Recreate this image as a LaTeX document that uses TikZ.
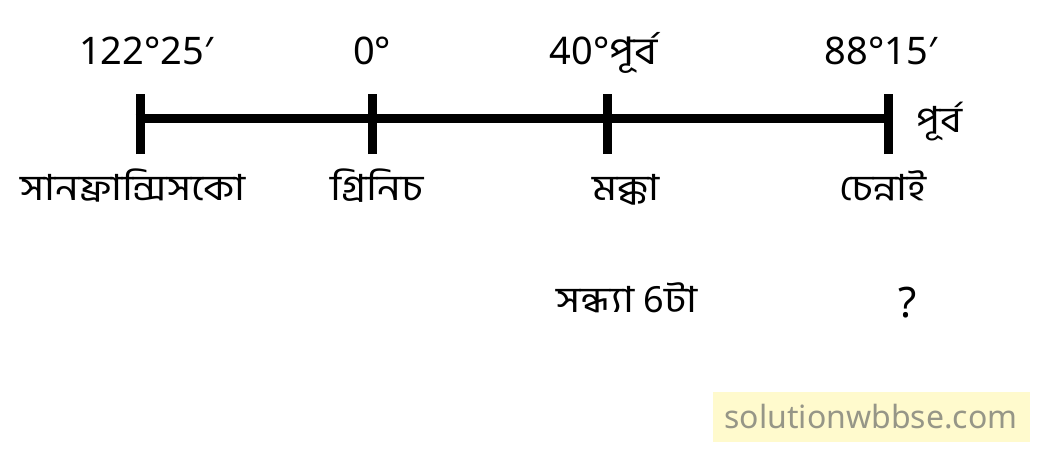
\documentclass[tikz,border=0pt]{standalone}
\usepackage{fontspec}
\setmainfont{Noto Sans}
\newfontfamily\bn[Script=Bengali]{Hind Siliguri}
\newcommand{\bnw}[1]{\scalebox{1.16}[1]{\bn #1}}
\begin{document}
\begin{tikzpicture}[x=1pt,y=-1pt,
  deg/.style={font=\fontsize{38}{40}\selectfont, anchor=base, inner sep=0pt},
  place/.style={font=\fontsize{36}{40}\selectfont, anchor=base, inner sep=0pt},
  axis/.style={line width=9pt},
  tick/.style={line width=9pt}]
\useasboundingbox (0,0) rectangle (1045,474);
\coordinate (A) at (140,118);
\coordinate (B) at (372,118);
\coordinate (C) at (607,118);
\coordinate (D) at (888,118);
\draw[axis] ([xshift=-4.5pt]A) -- ([xshift=4.5pt]D);
\foreach \p in {A,B,C,D}{
  \draw[tick] ([yshift=-36pt]\p) -- ([yshift=24pt]\p);
}
\node[deg] (tA) at (146,64) {122°25′};
\node[deg] (tB) at (372,64) {0°};
\node[deg] (tC) at (604,64) {40°\bnw{পূর্ব}};
\node[deg] (tD) at (881,64) {88°15′};
\node[place] (east) at (939,132) {\bnw{পূর্ব}};
\node[place] (sf) at (133,200) {\bnw{সানফ্রান্সিসকো}};
\node[place] (gr) at (377,200) {\bnw{গ্রিনিচ}};
\node[place] (mk) at (626,200) {\bnw{মক্কা}};
\node[place] (ch) at (883,200) {\bnw{চেন্নাই}};
\node[place] (time) at (627,312) {\bnw{সন্ধ্যা} 6\bnw{টা}};
\node[deg,font=\fontsize{42}{44}\selectfont] (q) at (908,317) {?};
\node[fill={rgb,255:red,255;green,250;blue,205}, minimum width=317pt, minimum height=50pt,
  text={rgb,255:red,150;green,150;blue,135}, font=\fontsize{32}{36}\selectfont, inner sep=0pt]
  (wm) at (871,417) {solutionwbbse.com};
\end{tikzpicture}
\end{document}
